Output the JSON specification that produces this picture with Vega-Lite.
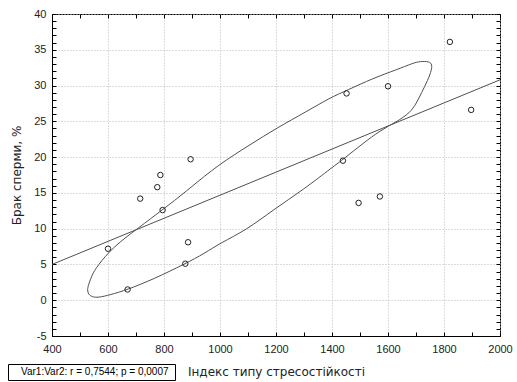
{
  "$schema": "https://vega.github.io/schema/vega-lite/v6.json",
  "width": 448,
  "height": 322,
  "autosize": {"type": "none"},
  "padding": {"left": 52, "top": 14, "right": 17, "bottom": 46},
  "background": "white",
  "config": {"view": {"stroke": "black", "strokeWidth": 1}, "font": "Liberation Sans"},
  "datasets": {
    "points": [
      {"x": 600, "y": 7.2}, {"x": 670, "y": 1.5}, {"x": 715, "y": 14.2}, {"x": 795, "y": 12.6},
      {"x": 776, "y": 15.8}, {"x": 787, "y": 17.5}, {"x": 895, "y": 19.7}, {"x": 886, "y": 8.1},
      {"x": 876, "y": 5.1}, {"x": 1452, "y": 28.9}, {"x": 1600, "y": 29.9}, {"x": 1439, "y": 19.5},
      {"x": 1571, "y": 14.5}, {"x": 1495, "y": 13.6}, {"x": 1821, "y": 36.1}, {"x": 1897, "y": 26.6}
    ],
    "fit": [{"x": 400, "y": 5}, {"x": 2000, "y": 30.8}],
    "ellipse": [
      {"i": 0, "x": 1756, "y": 32.2}, {"i": 1, "x": 1743, "y": 30.8}, {"i": 2, "x": 1719, "y": 28.95},
      {"i": 3, "x": 1702, "y": 27.56}, {"i": 4, "x": 1679, "y": 26.2}, {"i": 5, "x": 1631, "y": 24.94},
      {"i": 6, "x": 1571, "y": 23.68}, {"i": 7, "x": 1512, "y": 21.96}, {"i": 8, "x": 1440, "y": 19.7},
      {"i": 9, "x": 1405, "y": 18.69}, {"i": 10, "x": 1297, "y": 15.43}, {"i": 11, "x": 1190, "y": 12.63},
      {"i": 12, "x": 1095, "y": 9.83}, {"i": 13, "x": 1000, "y": 7.97}, {"i": 14, "x": 946, "y": 6.57},
      {"i": 15, "x": 875, "y": 5.08}, {"i": 16, "x": 762, "y": 2.94}, {"i": 17, "x": 667, "y": 1.44},
      {"i": 18, "x": 607, "y": 0.74}, {"i": 19, "x": 565, "y": 0.36}, {"i": 20, "x": 543, "y": 0.46},
      {"i": 21, "x": 530, "y": 0.81}, {"i": 22, "x": 526, "y": 1.44}, {"i": 23, "x": 530, "y": 2.14},
      {"i": 24, "x": 543, "y": 3.54}, {"i": 25, "x": 560, "y": 4.7}, {"i": 26, "x": 619, "y": 7.5},
      {"i": 27, "x": 708, "y": 10.07}, {"i": 28, "x": 797, "y": 12.73}, {"i": 29, "x": 833, "y": 13.79},
      {"i": 30, "x": 893, "y": 15.67}, {"i": 31, "x": 994, "y": 18.93}, {"i": 32, "x": 1107, "y": 21.72},
      {"i": 33, "x": 1202, "y": 24.06}, {"i": 34, "x": 1310, "y": 26.38}, {"i": 35, "x": 1393, "y": 28.3},
      {"i": 36, "x": 1452, "y": 29.3}, {"i": 37, "x": 1548, "y": 31.05}, {"i": 38, "x": 1631, "y": 32.21},
      {"i": 39, "x": 1690, "y": 33.15}, {"i": 40, "x": 1714, "y": 33.38}, {"i": 41, "x": 1749, "y": 33.38},
      {"i": 42, "x": 1757, "y": 32.91}
    ]
  },
  "layer": [
    {
      "data": {"name": "ellipse"},
      "mark": {"type": "line", "color": "#505050", "strokeWidth": 1, "interpolate": "basis-closed"},
      "encoding": {
        "x": {
          "field": "x", "type": "quantitative",
          "scale": {"domain": [400, 2000], "nice": false, "zero": false},
          "axis": {
            "orient": "bottom",
            "values": [400,600,800,1000,1200,1400,1600,1800,2000],
            "labelExpr": "'' + datum.value",
            "labelFlush": false,
            "grid": true, "gridColor": "#b8b8b8", "gridDash": [1, 2],
            "ticks": false, "domainColor": "black",
            "labelFont": "Liberation Sans", "labelFontSize": 11, "labelColor": "#222", "labelPadding": 7,
            "title": "Індекс типу стресостійкості",
            "titleFont": "DejaVu Sans", "titleFontSize": 12, "titleFontWeight": "normal", "titleColor": "#222",
            "titlePadding": 12
          }
        },
        "y": {
          "field": "y", "type": "quantitative",
          "scale": {"domain": [-5, 40], "nice": false, "zero": false},
          "axis": {
            "orient": "left",
            "values": [-5,0,5,10,15,20,25,30,35,40],
            "labelExpr": "'' + datum.value",
            "labelFlush": false,
            "grid": true, "gridColor": "#b8b8b8", "gridDash": [1, 2],
            "ticks": false, "domainColor": "black",
            "labelFont": "Liberation Sans", "labelFontSize": 11, "labelColor": "#222", "labelPadding": 6,
            "title": "Брак сперми, %",
            "titleFont": "DejaVu Sans", "titleFontSize": 12, "titleFontWeight": "normal", "titleColor": "#222",
            "titlePadding": 10
          }
        },
        "order": {"field": "i", "type": "quantitative"}
      }
    },
    {
      "data": {"name": "fit"},
      "mark": {"type": "line", "strokeWidth": 1},
      "encoding": {
        "x": {
          "field": "x", "type": "quantitative",
          "axis": {
            "orient": "top", "offset": -4,
            "values": [400,500,600,700,800,900,1000,1100,1200,1300,1400,1500,1600,1700,1800,1900,2000],
            "labels": false, "title": null, "grid": false, "domain": false,
            "tickSize": 4, "tickColor": "black"
          }
        },
        "y": {
          "field": "y", "type": "quantitative",
          "axis": {
            "orient": "right", "offset": -4,
            "values": [-5,-4,-3,-2,-1,0,1,2,3,4,5,6,7,8,9,10,11,12,13,14,15,16,17,18,19,20,21,22,23,24,25,26,27,28,29,30,31,32,33,34,35,36,37,38,39,40],
            "labels": false, "title": null, "grid": false, "domain": false,
            "tickSize": 4, "tickColor": "black"
          }
        },
        "color": {
          "datum": "Var1:Var2:  r = 0,7544; p = 0,0007",
          "type": "nominal",
          "scale": {"range": ["#505050"]},
          "legend": {
            "orient": "none", "legendX": -44, "legendY": 350,
            "title": null, "symbolSize": 0, "symbolOpacity": 0, "symbolStrokeWidth": 0, "labelOffset": 0,
            "labelFont": "Liberation Sans", "labelFontSize": 10, "labelColor": "black",
            "strokeColor": "black", "fillColor": "white", "padding": 3, "cornerRadius": 0
          }
        }
      }
    },
    {
      "data": {"name": "points"},
      "mark": {"type": "point", "shape": "circle", "filled": false, "size": 30, "stroke": "#222", "strokeWidth": 1, "opacity": 1},
      "encoding": {
        "x": {
          "field": "x", "type": "quantitative",
          "axis": {
            "orient": "bottom", "offset": -4,
            "values": [400,500,600,700,800,900,1000,1100,1200,1300,1400,1500,1600,1700,1800,1900,2000],
            "labels": false, "title": null, "grid": false, "domain": false,
            "tickSize": 4, "tickColor": "black"
          }
        },
        "y": {
          "field": "y", "type": "quantitative",
          "axis": {
            "orient": "left", "offset": -4,
            "values": [-5,-4,-3,-2,-1,0,1,2,3,4,5,6,7,8,9,10,11,12,13,14,15,16,17,18,19,20,21,22,23,24,25,26,27,28,29,30,31,32,33,34,35,36,37,38,39,40],
            "labels": false, "title": null, "grid": false, "domain": false,
            "tickSize": 4, "tickColor": "black"
          }
        }
      }
    }
  ],
  "resolve": {"axis": {"x": "independent", "y": "independent"}}
}
